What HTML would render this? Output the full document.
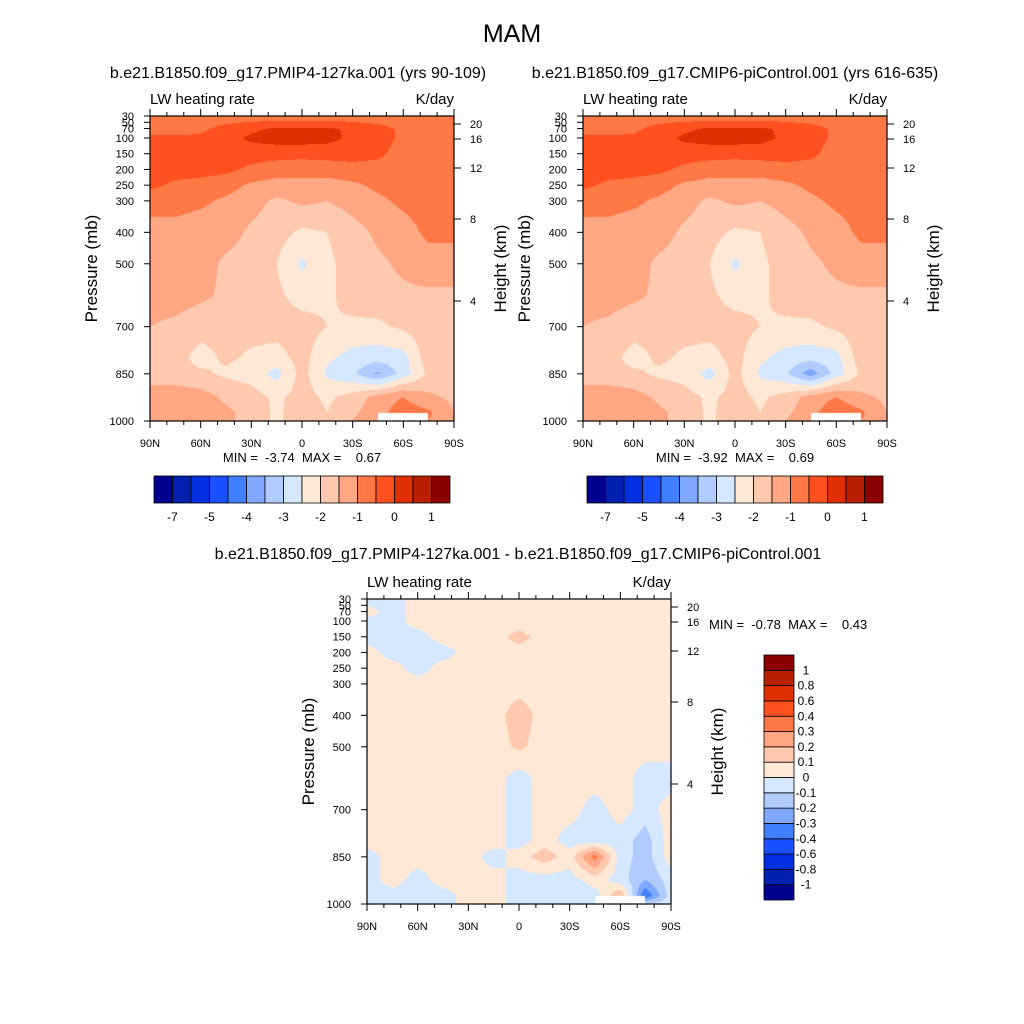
<!DOCTYPE html>
<html><head><meta charset="utf-8">
<style>
body{margin:0;background:#fff;}
#wrap{position:relative;width:1024px;height:1024px;overflow:hidden;font-family:"Liberation Sans",sans-serif;}
canvas{position:absolute;}
svg{position:absolute;left:0;top:0;}
svg text{white-space:pre;}
</style></head>
<body>
<div id="wrap">
<canvas id="c1" width="304" height="305" style="left:150px;top:116px"></canvas>
<canvas id="c2" width="304" height="305" style="left:583px;top:116px"></canvas>
<canvas id="c3" width="304" height="305" style="left:367px;top:599px"></canvas>
<svg id="s" width="1024" height="1024"></svg>
</div>
<script>
// ---- data ----
const lats = [90,75,60,45,30,15,0,-15,-30,-45,-60,-75,-90];
const pLevels = [30,70,100,150,200,250,300,400,500,600,700,800,850,925,975,1000];
const pTicks = [30,50,70,100,150,200,250,300,400,500,700,850,1000];
const hTicks = [20,16,12,8,4];
const hTickFrac = [8/305,23/305,52/305,103/305,185/305];
const latTickLabels = ["90N","60N","30N","0","30S","60S","90S"];
const levelsAbs = [-7,-6,-5,-4.5,-4,-3.5,-3,-2.5,-2,-1.5,-1,-0.5,0,0.5,1];
const labelsAbs = ["-7","-5","-4","-3","-2","-1","0","1"];
const levelsDiff = [-1,-0.8,-0.6,-0.4,-0.3,-0.2,-0.1,0,0.1,0.2,0.3,0.4,0.6,0.8,1];
const labelsDiff = ["-1","-0.8","-0.6","-0.4","-0.3","-0.2","-0.1","0","0.1","0.2","0.3","0.4","0.6","0.8","1"];
const colors = ["#00008f","#0020b0","#0030e0","#1a50ff","#4080ff","#80a8ff","#b0ccff","#d6e8ff","#ffe8d6","#ffc9b0","#ffa783","#ff7846","#ff5020","#e03000","#b82000","#8a0000"];
const N = NaN;
const field1 = [
[-0.8,-0.8,-0.8,-0.8,-0.8,-0.8,-0.8,-0.8,-0.8,-0.8,-0.8,-0.8,-0.8],
[-0.7,-0.7,-0.6,-0.3,-0.1,0.1,0.1,0.1,-0.1,-0.3,-0.6,-0.7,-0.7],
[-0.4,-0.4,-0.4,-0.2,0.1,0.2,0.2,0.15,-0.1,-0.3,-0.6,-0.7,-0.8],
[-0.3,-0.3,-0.45,-0.3,-0.3,-0.3,-0.3,-0.3,-0.3,-0.4,-0.7,-0.8,-0.8],
[-0.3,-0.3,-0.3,-0.4,-0.6,-0.8,-0.9,-0.8,-0.7,-0.7,-0.8,-0.8,-0.8],
[-0.4,-0.6,-0.7,-0.8,-1.1,-1.2,-1.1,-1.2,-1.1,-0.9,-0.8,-0.8,-0.8],
[-0.8,-0.8,-0.9,-1.1,-1.3,-1.6,-1.4,-1.5,-1.3,-1.1,-0.9,-0.8,-0.8],
[-1.2,-1.2,-1.3,-1.3,-1.6,-1.8,-2.1,-2.0,-1.7,-1.4,-1.2,-0.9,-0.9],
[-1.2,-1.3,-1.3,-1.6,-1.7,-2.0,-2.6,-2.1,-1.8,-1.6,-1.4,-1.2,-1.2],
[-1.3,-1.3,-1.4,-1.6,-1.7,-1.9,-2.2,-2.1,-1.8,-1.7,-1.6,-1.6,-1.6],
[-1.5,-1.6,-1.8,-1.8,-1.8,-1.8,-1.8,-2.0,-2.1,-2.1,-1.9,-1.7,-1.7],
[-1.6,-1.8,-2.2,-1.9,-2.1,-2.2,-1.8,-2.4,-2.7,-2.8,-2.7,-1.7,-1.7],
[-1.7,-1.8,-1.9,-2.1,-2.2,-2.7,-1.8,-2.6,-2.9,-3.6,-2.8,-1.9,-1.8],
[-1.3,-1.2,-1.3,-1.6,-1.8,-2.1,-1.8,-2.1,-1.8,-1.3,-1.0,-1.4,-1.6],
[-1.3,-1.1,-1.2,-1.4,-1.7,-2.1,-1.7,-2.0,-1.6,-1.2,-0.7,-0.9,-1.5],
[-1.3,-1.1,-1.0,-1.4,-1.7,-2.1,-1.7,-2.0,-1.5,-1.1,N,-1.0,-1.5]];
const field2 = [
[-0.8,-0.8,-0.8,-0.8,-0.8,-0.8,-0.8,-0.8,-0.8,-0.8,-0.8,-0.8,-0.8],
[-0.7,-0.7,-0.6,-0.3,-0.1,0.1,0.1,0.1,-0.1,-0.3,-0.6,-0.7,-0.7],
[-0.4,-0.4,-0.4,-0.2,0.1,0.2,0.2,0.15,-0.1,-0.3,-0.6,-0.7,-0.8],
[-0.3,-0.3,-0.45,-0.3,-0.3,-0.3,-0.3,-0.3,-0.3,-0.4,-0.7,-0.8,-0.8],
[-0.3,-0.3,-0.3,-0.4,-0.6,-0.8,-0.9,-0.8,-0.7,-0.7,-0.8,-0.8,-0.8],
[-0.4,-0.6,-0.7,-0.8,-1.1,-1.2,-1.1,-1.2,-1.1,-0.9,-0.8,-0.8,-0.8],
[-0.8,-0.8,-0.9,-1.1,-1.3,-1.6,-1.4,-1.5,-1.3,-1.1,-0.9,-0.8,-0.8],
[-1.2,-1.2,-1.3,-1.3,-1.6,-1.8,-2.1,-2.0,-1.7,-1.4,-1.2,-0.9,-0.9],
[-1.2,-1.3,-1.3,-1.6,-1.7,-2.0,-2.6,-2.1,-1.8,-1.6,-1.4,-1.2,-1.2],
[-1.3,-1.3,-1.4,-1.6,-1.7,-1.9,-2.2,-2.1,-1.8,-1.7,-1.6,-1.6,-1.6],
[-1.5,-1.6,-1.8,-1.8,-1.8,-1.8,-1.8,-2.0,-2.1,-2.1,-1.9,-1.7,-1.7],
[-1.6,-1.8,-2.2,-1.9,-2.1,-2.2,-1.8,-2.4,-2.7,-2.8,-2.7,-1.7,-1.7],
[-1.7,-1.8,-1.9,-2.1,-2.2,-2.7,-1.8,-2.6,-2.9,-3.8,-2.8,-1.9,-1.8],
[-1.3,-1.2,-1.3,-1.6,-1.8,-2.1,-1.8,-2.1,-1.8,-1.3,-1.0,-1.4,-1.6],
[-1.3,-1.1,-1.2,-1.4,-1.7,-2.1,-1.7,-2.0,-1.6,-1.2,-0.6,-0.9,-1.5],
[-1.3,-1.1,-1.0,-1.4,-1.7,-2.1,-1.7,-2.0,-1.5,-1.1,N,-1.0,-1.5]];
const field3 = [
[-0.05,-0.05,0.05,0.05,0.05,0.05,0.05,0.05,0.05,0.05,0.05,0.05,0.05],
[0.05,-0.05,0.05,0.05,0.05,0.05,0.05,0.05,0.05,0.05,0.05,0.05,0.05],
[-0.05,-0.05,0.05,0.05,0.05,0.05,0.05,0.05,0.05,0.05,0.05,0.05,0.05],
[-0.05,-0.05,-0.05,0.05,0.05,0.05,0.14,0.05,0.05,0.05,0.05,0.05,0.05],
[0.05,-0.05,-0.05,-0.05,0.05,0.05,0.05,0.05,0.05,0.05,0.05,0.05,0.05],
[0.05,0.05,-0.05,0.05,0.05,0.05,0.05,0.05,0.05,0.05,0.05,0.05,0.05],
[0.05,0.05,0.05,0.05,0.05,0.05,0.05,0.05,0.05,0.05,0.05,0.05,0.05],
[0.05,0.05,0.05,0.05,0.05,0.05,0.16,0.05,0.05,0.05,0.05,0.05,0.05],
[0.05,0.05,0.05,0.05,0.05,0.05,0.12,0.05,0.05,0.05,0.05,0.05,0.05],
[0.05,0.05,0.05,0.05,0.05,0.05,-0.05,0.05,0.05,0.05,0.05,-0.05,-0.05],
[0.05,0.05,0.05,0.05,0.05,0.05,-0.05,0.05,0.05,-0.05,0.05,-0.05,0.05],
[0.05,0.05,0.05,0.05,0.05,0.05,-0.05,0.05,-0.05,-0.05,-0.05,-0.15,0.05],
[-0.05,0.05,0.05,0.05,0.05,-0.05,0.05,0.16,0.05,0.35,-0.05,-0.15,0.05],
[-0.05,0.05,-0.05,0.05,0.05,0.05,-0.05,-0.05,-0.05,0.05,-0.05,-0.2,-0.05],
[-0.05,-0.05,-0.05,-0.05,0.05,0.05,-0.05,-0.05,-0.05,-0.05,0.2,-0.4,-0.05],
[-0.1,-0.05,-0.05,-0.05,0.05,0.05,-0.05,-0.05,-0.05,-0.05,N,-0.1,-0.05]];

// ---- helpers ----
const W=304,H=305;
function yFrac(p){return (p-30)/970;}
function xFrac(lat){return (90-lat)/180;}
function hex(c){return [parseInt(c.substr(1,2),16),parseInt(c.substr(3,2),16),parseInt(c.substr(5,2),16)];}
const rgb=colors.map(hex);
function bin(v,lev){let k=0;while(k<lev.length&&v>=lev[k])k++;return k;}
function drawField(id,field,lev){
  const cv=document.getElementById(id),ctx=cv.getContext('2d');
  const img=ctx.createImageData(W,H);
  const rowY=pLevels.map(p=>yFrac(p)*(H-1));
  for(let y=0;y<H;y++){
    let r=0;while(r<rowY.length-2&&y>rowY[r+1])r++;
    const ty=Math.min(1,Math.max(0,(y-rowY[r])/(rowY[r+1]-rowY[r])));
    for(let x=0;x<W;x++){
      const fx=x/(W-1)*(lats.length-1);
      let c=Math.min(lats.length-2,Math.floor(fx));const tx=fx-c;
      const a=field[r][c],b=field[r][c+1],d=field[r+1][c],e=field[r+1][c+1];
      const v=(a*(1-tx)+b*tx)*(1-ty)+(d*(1-tx)+e*tx)*ty;
      const i=(y*W+x)*4;
      if(isNaN(v)){img.data[i]=255;img.data[i+1]=255;img.data[i+2]=255;}
      else{const col=rgb[bin(v,lev)];img.data[i]=col[0];img.data[i+1]=col[1];img.data[i+2]=col[2];}
      img.data[i+3]=255;
    }
  }
  ctx.putImageData(img,0,0);
}
drawField('c1',field1,levelsAbs);
drawField('c2',field2,levelsAbs);
drawField('c3',field3,levelsDiff);

const svg=document.getElementById('s');const NS='http://www.w3.org/2000/svg';
function el(tag,attrs,txt){const e=document.createElementNS(NS,tag);for(const k in attrs)e.setAttribute(k,attrs[k]);if(txt!==undefined)e.textContent=txt;svg.appendChild(e);return e;}
function text(x,y,s,size,anchor,name,rot){
  const t=el('text',{x:x,y:y,'font-size':size,'text-anchor':anchor||'middle',fill:'#000','font-family':'Liberation Sans, sans-serif'},s);
  if(rot)t.setAttribute('transform','rotate(-90 '+x+' '+y+')');
  
  
  return t;
}
function line(x1,y1,x2,y2,name){const l=el('line',{x1:x1,y1:y1,x2:x2,y2:y2,stroke:'#000','stroke-width':1});
  
  }
function panel(x0,y0,tag){
  const fr=el('rect',{x:x0,y:y0,width:W,height:H,fill:'none',stroke:'#000','stroke-width':1.2});
  
  
  pTicks.forEach(p=>{const y=y0+yFrac(p)*H;line(x0-6,y,x0,y,tag+'-pressure-tick');
    text(x0-16,y+4,String(p),11,'end',tag+'-pressure-label');});
  hTicks.forEach((h,i)=>{const y=y0+hTickFrac[i]*H;line(x0+W,y,x0+W+7,y,tag+'-height-tick');
    text(x0+W+16,y+4,String(h),11,'start',tag+'-height-label');});
  for(let lat=90;lat>=-90;lat-=10){const x=x0+xFrac(lat)*W;const mj=(lat%30===0);
    const L=mj?7:4;line(x,y0+H,x,y0+H+L,tag+'-lat-tick');line(x,y0,x,y0-L,tag+'-lat-tick-top');}
  latTickLabels.forEach((s,i)=>text(x0+i*W/6,y0+H+26,s,11,'middle',tag+'-lat-label'));
  text(x0,y0-12,'LW heating rate',15,'start',tag+'-left-string');
  text(x0+W,y0-12,'K/day',15,'end',tag+'-right-string');
  text(x0-53,y0+H*0.5,'Pressure (mb)',17,'middle',tag+'-y-axis-title',true);
  text(x0+W+52,y0+H*0.5,'Height (km)',17,'middle',tag+'-right-axis-title',true);
}
panel(150,116,'panel1');panel(583,116,'panel2');panel(367,599,'panel3');
text(512,42,'MAM',25,'middle','figure-title');
text(298,78,'b.e21.B1850.f09_g17.PMIP4-127ka.001 (yrs 90-109)',16,'middle','panel1-title');
text(735,78,'b.e21.B1850.f09_g17.CMIP6-piControl.001 (yrs 616-635)',16,'middle','panel2-title');
text(518,559,'b.e21.B1850.f09_g17.PMIP4-127ka.001 - b.e21.B1850.f09_g17.CMIP6-piControl.001',16,'middle','panel3-title');
text(302,462,'MIN =  -3.74  MAX =    0.67',13,'middle','panel1-min-max');
text(735,462,'MIN =  -3.92  MAX =    0.69',13,'middle','panel2-min-max');
text(709,629,'MIN =  -0.78  MAX =    0.43',13,'start','panel3-min-max');
function hbar(x0,y0,tag){
  const bw=296/16;
  colors.forEach((c,i)=>{const r=el('rect',{x:x0+i*bw,y:y0,width:bw,height:27,fill:c,stroke:'#000','stroke-width':0.8});
    
    });
  labelsAbs.forEach((s,i)=>text(x0+(2*i+1)*bw,y0+45,s,12,'middle',tag+'-colorbar-label'));
}
hbar(154,476,'panel1');hbar(587,476,'panel2');
const bh=245/16;
colors.forEach((c,i)=>{const r=el('rect',{x:764,y:655+(15-i)*bh,width:30,height:bh,fill:c,stroke:'#000','stroke-width':0.8});
  
  });
labelsDiff.forEach((s,i)=>text(806,655+(15-i-1)*bh+bh+4,s,12,'middle','panel3-colorbar-label'));
</script>
</body></html>
